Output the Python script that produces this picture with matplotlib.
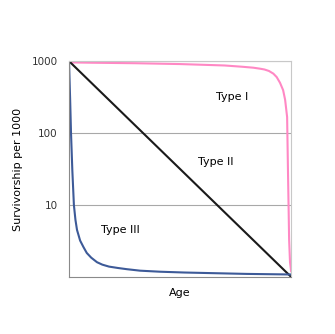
import numpy as np
import matplotlib
matplotlib.use("Agg")
import matplotlib.pyplot as plt

# ages as percent of max lifespan
age_1 = [0, 10, 30, 50, 70, 78, 83, 86, 88, 90, 92, 93.5, 95, 96.4, 97.3, 98.2, 98.6, 98.9, 99.1, 99.5, 100]
type_1 = [960, 950, 935, 910, 870, 835, 810, 785, 765, 730, 670, 600, 500, 395, 290, 167, 28, 8, 3.3, 1.6, 1.2]

age_2 = [0, 100]
type_2 = [1000, 1]

age_3 = [0, 0.5, 0.9, 1.5, 2.2, 2.9, 3.6, 5, 6.5, 8, 10, 12.6, 15, 18, 22, 26, 32, 41, 52, 63, 80, 100]
type_3 = [1000, 300, 100, 30, 10, 6.2, 4.5, 3.2, 2.6, 2.15, 1.85, 1.6, 1.48, 1.39, 1.33, 1.28, 1.22, 1.18, 1.15, 1.13, 1.1, 1.08]

ytick_vals = [10, 100, 1000]
ytick_labels = ["10", "100", "1000"]

fig = plt.figure(figsize=(3.35, 3.34), dpi=100)
ax = fig.add_axes([0.206, 0.171, 0.663, 0.646])

ax.plot(age_1, type_1, color="#ff88c4", lw=1.5)
ax.plot(age_2, type_2, color="#1a1a1a", lw=1.5)
ax.plot(age_3, type_3, color="#3d5a98", lw=1.5)

ax.set_yscale("log")
ax.set_ylim(1, 1000)
ax.set_xlim(0, 100)
ax.set_yticks(ytick_vals)
ax.set_yticklabels(ytick_labels)
ax.minorticks_off()
ax.set_xticks([])
ax.tick_params(axis="y", length=0, labelsize=7.5, colors="#333333", pad=8)
ax.grid(axis="y", color="#a8a8a8", lw=0.8)
ax.set_axisbelow(True)

for s in ["left", "bottom"]:
    ax.spines[s].set_color("#8a8a8a")
for s in ["top", "right"]:
    ax.spines[s].set_color("#c8c8c8")

ax.set_xlabel("Age", fontsize=8, labelpad=8)
ax.set_ylabel("Survivorship per 1000", fontsize=8, labelpad=6)

ax.text(73.4, 316, "Type I", fontsize=8, ha="center", va="center")
ax.text(66, 40, "Type II", fontsize=8, ha="center", va="center")
ax.text(23, 4.5, "Type III", fontsize=8, ha="center", va="center")

fig.savefig("out.png", dpi=100)
